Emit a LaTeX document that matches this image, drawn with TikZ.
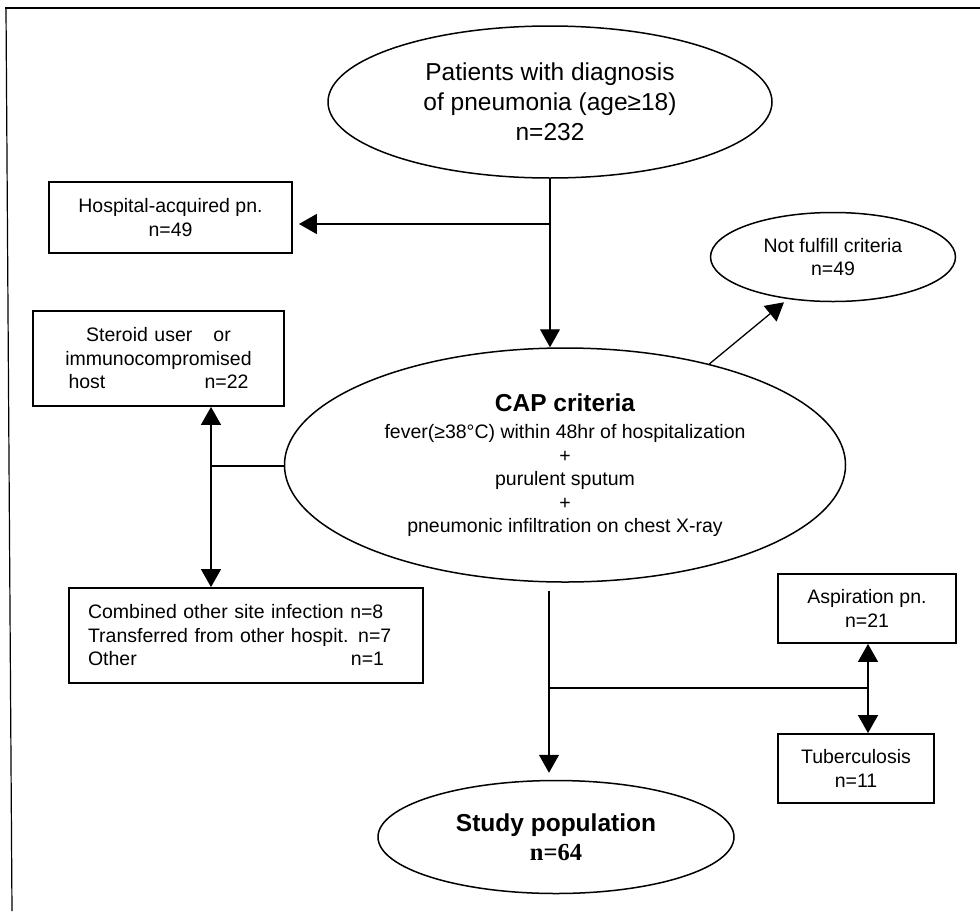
\documentclass[tikz,border=0pt]{standalone}
\usepackage{fontspec}
\setmainfont{Liberation Sans}
\newfontfamily\timesfont{Liberation Serif}
\usetikzlibrary{shapes.geometric,arrows.meta}
\begin{document}
\begin{tikzpicture}[x=1pt,y=-1pt,
  line width=1.3pt,
  ell/.style={draw, ellipse, inner sep=0pt, line width=1.5pt},
  box/.style={draw, rectangle, inner sep=0pt, line width=1.8pt},
  small/.style={font=\fontsize{19.5}{23.5}\selectfont},
  big/.style={font=\fontsize{24.5}{30}\selectfont},
  arr/.style={-{Triangle[length=18pt,width=20pt]}},
  darr/.style={{Triangle[length=18pt,width=20pt]}-{Triangle[length=18pt,width=20pt]}},
]
\useasboundingbox (0,0) rectangle (980,911);
% frame (top and left edges only)
\draw[line width=1.2pt] (5,8) -- (980,8);
\draw[line width=1.2pt] (6,8) -- (12,911);

\node[ell, big, minimum width=444pt, minimum height=152pt, align=center] (pat) at (550,102)
  {Patients with diagnosis\\of pneumonia (age≥18)\\n=232};
\node[box, small, minimum width=243pt, minimum height=71pt, align=center] (hosp) at (170.5,217.5)
  {Hospital-acquired pn.\\n=49};
\node[ell, small, minimum width=245pt, minimum height=89pt, align=center] (notf) at (833,257)
  {Not fulfill criteria\\n=49};
\node[ell, small, minimum width=561pt, minimum height=234pt, align=center] (cap) at (565,465)
  {{\fontsize{24.5}{30}\selectfont\bfseries CAP criteria}\\[4pt]
   fever(≥38°C) within 48hr of hospitalization\\+\\purulent sputum\\+\\pneumonic infiltration on chest X-ray};
\node[box, small, minimum width=251pt, minimum height=95pt, text width=190pt, align=center] (ster) at (158.5,358.5)
  {Steroid user\hspace{21pt}or\\immunocompromised\\\makebox[180pt]{host\hfill n=22}};
\node[box, small, minimum width=354pt, minimum height=95pt, text width=316pt, align=left] (comb) at (246,635.5)
  {Combined other site infection n=8\\Transferred from other hospit. n=7\\\makebox[296pt][l]{Other\hfill n=1}};
\node[box, small, minimum width=178pt, minimum height=69pt, align=center] (asp) at (867,608.5)
  {Aspiration pn.\\n=21};
\node[box, small, minimum width=156pt, minimum height=69pt, align=center] (tub) at (856,768.5)
  {Tuberculosis\\n=11};
\node[ell, minimum width=356pt, minimum height=113pt, align=center, font=\fontsize{24.5}{29}\selectfont\bfseries] (study) at (556,837)
  {Study population\\{\timesfont n=64}};

% connectors
\draw[arr] (pat.south) -- (pat.south |- cap.north);
\coordinate (b1) at (550,224);
\draw[arr, shorten >=6pt] (b1) -- (b1 -| hosp.east);
\draw[arr, shorten >=5pt] (cap.35) -- (notf.223);
\coordinate (v1) at (211,466);
\draw (v1) -- (v1 -| cap.west);
\draw[darr] (ster.south -| v1) -- (comb.north -| v1);
\coordinate (c2) at (549,688);
\draw[arr, shorten <=8pt, shorten >=7pt] (cap.south -| c2) -- (study.north -| c2);
\coordinate (c3) at (868,688);
\draw (c2) -- (c3);
\draw[darr] (asp.south -| c3) -- (tub.north -| c3);
\end{tikzpicture}
\end{document}
